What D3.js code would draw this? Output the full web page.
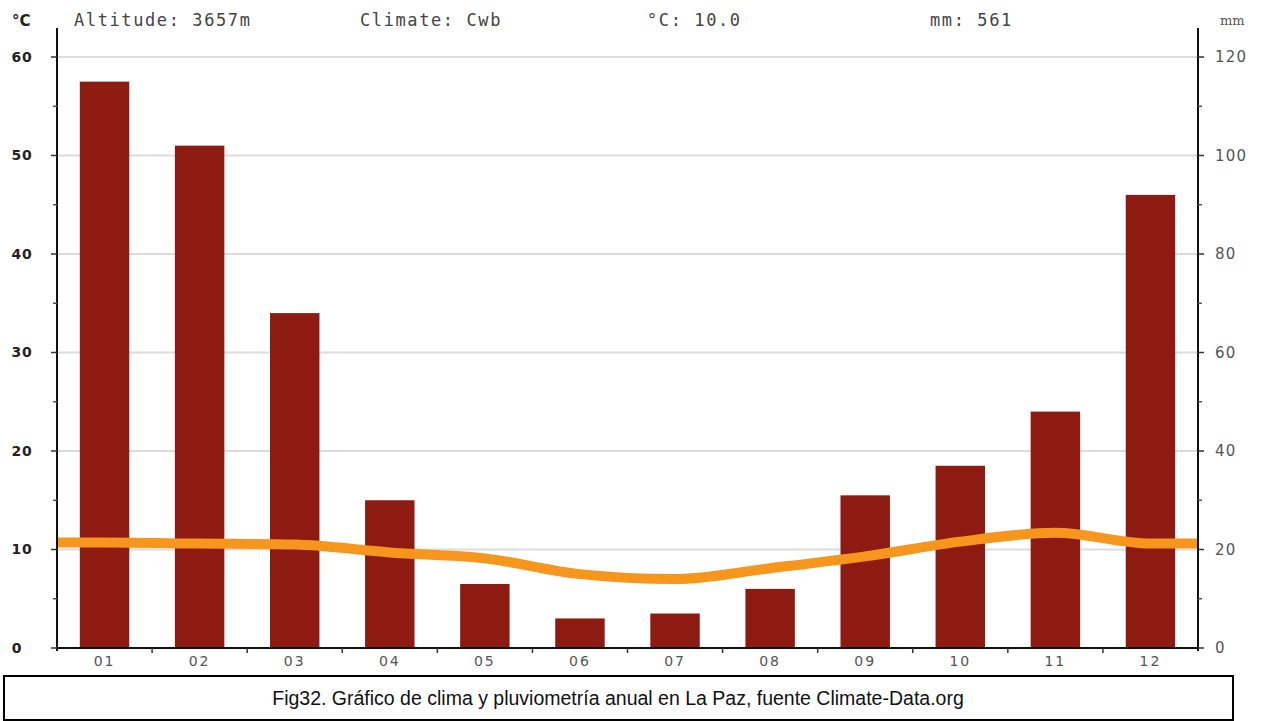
<!DOCTYPE html>
<html>
<head>
<meta charset="utf-8">
<script src="https://cdn.jsdelivr.net/npm/d3@7"></script>
<style>
  html, body { margin: 0; padding: 0; background: #fff; }
  svg { display: block; }
</style>
</head>
<body>
<svg id="chart" width="1263" height="721"></svg>
<script>
// ---- data ----
const months = ["01","02","03","04","05","06","07","08","09","10","11","12"];
const precipitation = [115, 102, 68, 30, 13, 6, 7, 12, 31, 37, 48, 92]; // mm
const temperature = [10.7, 10.6, 10.5, 9.7, 9.1, 7.5, 7.0, 8.1, 9.3, 10.8, 11.7, 10.6]; // °C
const tempTicks = [0, 10, 20, 30, 40, 50, 60];
const tempMinorTicks = [5, 15, 25, 35, 45, 55];
const mmTicks = [0, 20, 40, 60, 80, 100, 120];
const mmMinorTicks = [10, 30, 50, 70, 90, 110];
const headerTexts = ["Altitude: 3657m", "Climate: Cwb", "°C: 10.0", "mm: 561"];
const caption = "Fig32. Gráfico de clima y pluviometría anual en La Paz, fuente Climate-Data.org";

// ---- layout ----
const svg = d3.select("#chart");
const L = 57, R = 1198, T = 57, B = 648, axisTop = 28;

const x = d3.scaleBand().domain(months).range([L, R]).paddingInner(0.48).paddingOuter(0.24);
const xBand = d3.scaleBand().domain(months).range([L, R]);
const yT = d3.scaleLinear().domain([0, 60]).range([B, T]);
const yP = d3.scaleLinear().domain([0, 120]).range([B, T]);

// gridlines
svg.append("g").selectAll("line").data(tempTicks.filter(d => d > 0)).join("line")
  .attr("x1", L).attr("x2", R)
  .attr("y1", d => yT(d)).attr("y2", d => yT(d))
  .attr("stroke", "#dcdcdc").attr("stroke-width", 2);

// bars
svg.append("g").selectAll("rect").data(months).join("rect")
  .attr("x", d => x(d))
  .attr("width", x.bandwidth())
  .attr("y", (d, i) => yP(precipitation[i]))
  .attr("height", (d, i) => B - yP(precipitation[i]))
  .attr("fill", "#8e1b12");

// temperature line (extended to plot edges)
const pts = months.map((m, i) => [xBand(m) + xBand.bandwidth() / 2, yT(temperature[i])]);
const linePts = [[L, pts[0][1]], ...pts, [R, pts[pts.length - 1][1]]];
svg.append("path")
  .attr("d", d3.line().curve(d3.curveMonotoneX)(linePts))
  .attr("fill", "none")
  .attr("stroke", "#f7961c")
  .attr("stroke-width", 10)
  .attr("stroke-linejoin", "round");

// left axis
const gl = svg.append("g");
gl.append("line").attr("x1", L).attr("x2", L).attr("y1", axisTop).attr("y2", B + 3)
  .attr("stroke", "#111").attr("stroke-width", 2);
gl.selectAll(".maj").data(tempTicks).join("line")
  .attr("x1", L - 6).attr("x2", L).attr("y1", d => yT(d)).attr("y2", d => yT(d))
  .attr("stroke", "#333").attr("stroke-width", 1.5);
gl.selectAll(".min").data(tempMinorTicks).join("line")
  .attr("x1", L - 4).attr("x2", L).attr("y1", d => yT(d)).attr("y2", d => yT(d))
  .attr("stroke", "#555").attr("stroke-width", 1.5);
gl.selectAll("text").data(tempTicks).join("text")
  .attr("x", d => d === 0 ? 17 : 22).attr("y", d => yT(d)).attr("dy", "0.35em")
  .attr("text-anchor", "middle")
  .attr("font-family", "DejaVu Sans").attr("font-weight", "bold").attr("font-size", 14)
  .attr("letter-spacing", 0.8)
  .attr("fill", "#222").text(d => d);

// right axis
const gr = svg.append("g");
gr.append("line").attr("x1", R).attr("x2", R).attr("y1", axisTop).attr("y2", B + 3)
  .attr("stroke", "#111").attr("stroke-width", 2);
gr.selectAll(".maj").data(mmTicks).join("line")
  .attr("x1", R).attr("x2", R + 6).attr("y1", d => yP(d)).attr("y2", d => yP(d))
  .attr("stroke", "#333").attr("stroke-width", 1.5);
gr.selectAll(".min").data(mmMinorTicks).join("line")
  .attr("x1", R).attr("x2", R + 4).attr("y1", d => yP(d)).attr("y2", d => yP(d))
  .attr("stroke", "#555").attr("stroke-width", 1.5);
gr.selectAll("text").data(mmTicks).join("text")
  .attr("x", 1215).attr("y", d => yP(d)).attr("dy", "0.35em")
  .attr("text-anchor", "start")
  .attr("font-family", "DejaVu Sans").attr("font-size", 15)
  .attr("letter-spacing", 1.2)
  .attr("fill", "#555").text(d => d);

// bottom axis
const gb = svg.append("g");
gb.append("line").attr("x1", L).attr("x2", R).attr("y1", B).attr("y2", B)
  .attr("stroke", "#111").attr("stroke-width", 2);
gb.selectAll(".tk").data(months.slice(1)).join("line")
  .attr("x1", d => xBand(d)).attr("x2", d => xBand(d))
  .attr("y1", B).attr("y2", B + 5)
  .attr("stroke", "#333").attr("stroke-width", 1.5);
gb.selectAll("text").data(months).join("text")
  .attr("x", d => xBand(d) + xBand.bandwidth() / 2).attr("y", 666)
  .attr("text-anchor", "middle")
  .attr("font-family", "DejaVu Sans").attr("font-size", 14)
  .attr("letter-spacing", 2)
  .attr("fill", "#555").text(d => d);

// header
svg.append("text").attr("x", 12).attr("y", 26)
  .attr("font-family", "DejaVu Sans").attr("font-weight", "bold").attr("font-size", 15)
  .attr("fill", "#222").text("°C");
svg.append("text").attr("x", 1220).attr("y", 25)
  .attr("font-family", "DejaVu Serif").attr("font-size", 13)
  .attr("fill", "#555").text("mm");
const headerX = [74, 360, 647, 930];
svg.append("g").selectAll("text").data(headerTexts).join("text")
  .attr("x", (d, i) => headerX[i]).attr("y", 26)
  .attr("font-family", "DejaVu Sans Mono").attr("font-size", 17)
  .attr("letter-spacing", 1.6)
  .attr("fill", "#444").text(d => d);

// caption box
svg.append("rect").attr("x", 4).attr("y", 676).attr("width", 1229).attr("height", 44)
  .attr("fill", "#fff").attr("stroke", "#000").attr("stroke-width", 2);
svg.append("text").attr("x", 618).attr("y", 705)
  .attr("text-anchor", "middle")
  .attr("font-family", "Liberation Sans, Arial").attr("font-size", 19.5)
  .attr("fill", "#111").text(caption);
</script>
</body>
</html>
